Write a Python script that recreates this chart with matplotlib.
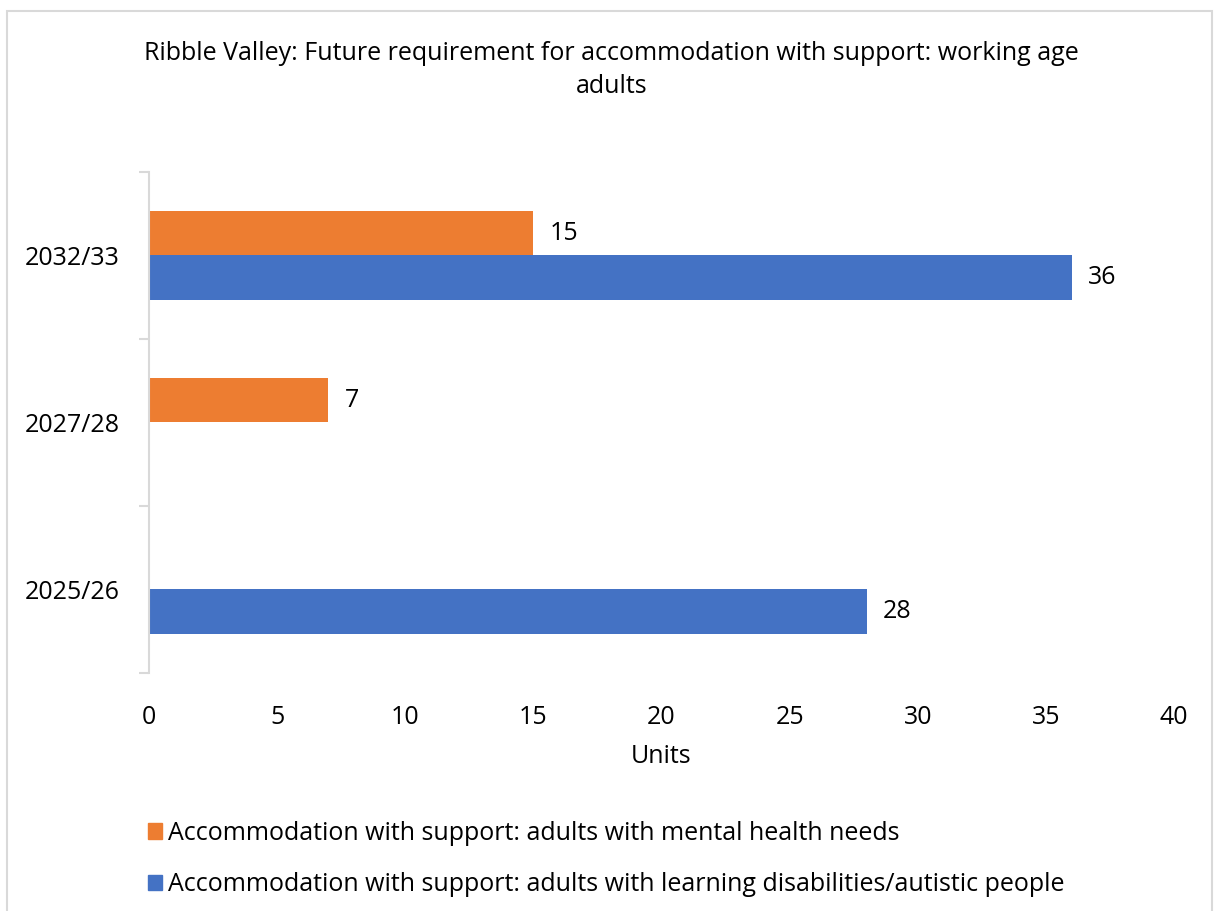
import numpy as np
import matplotlib.pyplot as plt
from matplotlib.patches import Rectangle, Patch

plt.rcParams['font.family'] = ['Open Sans', 'DejaVu Sans']

# data
years = ['2025/26', '2027/28', '2032/33']
mental_health = [0, 7, 15]
learning_dis = [28, 0, 36]
series_names = ['Accommodation with support: adults with mental health needs',
                'Accommodation with support: adults with learning disabilities/autistic people']
orange = '#ED7D31'
blue = '#4472C4'


def main():
    fig = plt.figure(figsize=(12.14, 9.11), dpi=100)
    ax = fig.add_axes([149 / 1214, 1 - 673 / 911, 1025 / 1214, 501 / 911])

    fs = 18
    y = np.arange(len(years))
    h = 0.265
    b1 = ax.barh(y + h / 2, mental_health, height=h, color=orange)
    b2 = ax.barh(y - h / 2, learning_dis, height=h, color=blue)

    # data labels (skip zeros)
    for bars, vals in [(b1, mental_health), (b2, learning_dis)]:
        for bar, v in zip(bars, vals):
            if v == 0:
                bar.set_visible(False)
                continue
            ax.annotate(str(v), (v, bar.get_y() + bar.get_height() / 2),
                        xytext=(12, 0), textcoords='offset points',
                        va='center', ha='left', fontsize=fs, color='black')

    ax.set_xlim(0, 40)
    ax.set_ylim(-0.5, 2.5)
    ax.set_xticks(range(0, 41, 5))
    ax.set_yticks(y)
    ax.set_yticklabels(years)
    ax.set_yticks([-0.5, 0.5, 1.5, 2.5], minor=True)
    ax.tick_params(axis='y', which='major', length=0, pad=21, labelsize=fs)
    ax.tick_params(axis='y', which='minor', length=7, color='#d9d9d9', width=1.5)
    ax.tick_params(axis='x', length=0, pad=23, labelsize=fs)
    ax.set_xlabel('Units', fontsize=fs, labelpad=10)

    for s in ['top', 'right', 'bottom']:
        ax.spines[s].set_visible(False)
    ax.spines['left'].set_color('#d9d9d9')
    ax.spines['left'].set_linewidth(1.5)

    fig.text(0.504, 1 - 70 / 911,
             'Ribble Valley: Future requirement for accommodation with support: working age\nadults',
             ha='center', va='center', fontsize=fs, linespacing=1.4)

    handles = [Patch(color=orange, label=series_names[0]),
               Patch(color=blue, label=series_names[1])]
    fig.legend(handles=handles, loc='upper left', bbox_to_anchor=(138 / 1214, 1 - 811 / 911),
               frameon=False, fontsize=fs, handlelength=0.55, handleheight=0.6,
               handletextpad=0.25, labelspacing=1.05, borderaxespad=0)

    # outer chart border
    fig.patches.append(Rectangle((7 / 1214, -0.01), 1205 / 1214, 1 - 11 / 911 + 0.01,
                                 transform=fig.transFigure, fill=False,
                                 edgecolor='#d9d9d9', linewidth=1.5))

    fig.savefig('out.png', dpi=100)


if __name__ == '__main__':
    main()
